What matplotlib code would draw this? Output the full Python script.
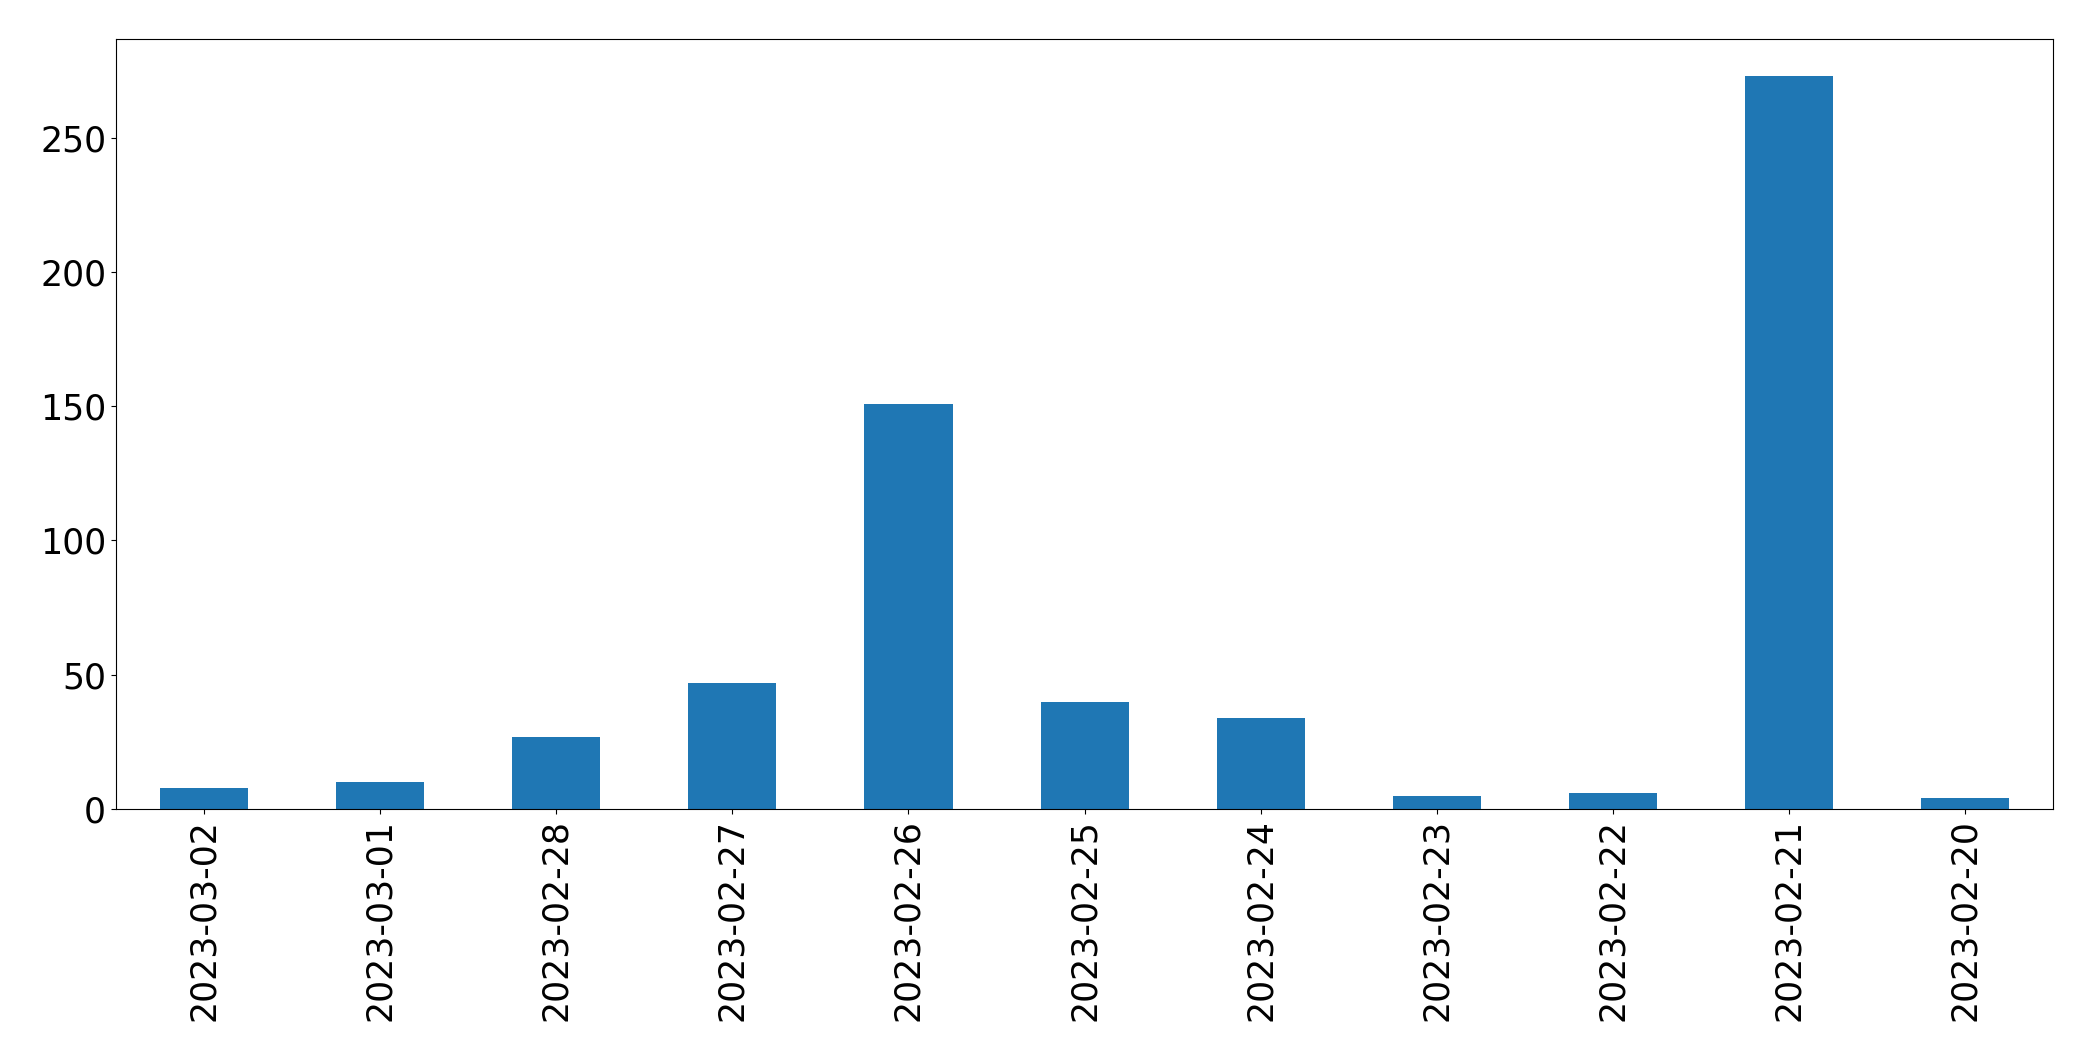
import matplotlib
matplotlib.use("Agg")
import matplotlib.pyplot as plt

# 每日数量（按日期倒序）
dates = ["2023-03-02", "2023-03-01", "2023-02-28", "2023-02-27", "2023-02-26",
         "2023-02-25", "2023-02-24", "2023-02-23", "2023-02-22", "2023-02-21",
         "2023-02-20"]
counts = [8, 10, 27, 47, 151, 40, 34, 5, 6, 273, 4]

fig, ax = plt.subplots(figsize=(20.93, 10.61), dpi=100)
fig.subplots_adjust(left=0.0554, right=0.981, top=0.963, bottom=0.2375)

x = range(len(dates))
ax.bar(x, counts, width=0.5, color="#1f77b4")
ax.set_xlim(-0.5, len(dates) - 0.5)
ax.set_xticks(list(x))
ax.set_xticklabels(dates, rotation=90)
ax.tick_params(axis="both", labelsize=25)

fig.savefig("out.png", dpi=100)
